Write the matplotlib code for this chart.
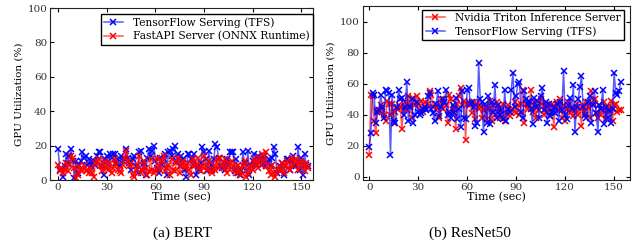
import numpy as np
import matplotlib
matplotlib.use("Agg")
import matplotlib.pyplot as plt

plt.rcParams["font.family"] = "DejaVu Serif"

# BERT (GPU utilization %, one sample per second)
bert_tfs = [18, 6, 7, 2, 8, 15, 10, 14, 18, 11,
            1, 11, 4, 9, 11, 16, 13, 14, 9, 12,
            8, 11, 11, 9, 14, 16, 16, 8, 3, 12,
            14, 9, 15, 13, 15, 15, 10, 12, 8, 14,
            11, 12, 18, 13, 10, 6, 12, 14, 8, 4,
            16, 17, 6, 10, 3, 13, 18, 14, 17, 20,
            11, 7, 4, 13, 9, 12, 15, 3, 16, 17,
            14, 18, 20, 11, 15, 8, 14, 12, 6, 2,
            15, 15, 12, 9, 15, 3, 8, 6, 10, 19,
            16, 12, 5, 17, 9, 6, 12, 21, 19, 13,
            8, 7, 10, 6, 12, 9, 16, 16, 16, 5,
            12, 4, 3, 6, 16, 10, 5, 17, 3, 8,
            11, 15, 9, 14, 12, 11, 9, 14, 8, 10,
            12, 8, 13, 19, 15, 4, 6, 8, 10, 3,
            8, 12, 12, 6, 11, 14, 9, 8, 19, 6,
            13, 3, 15, 9, 8]
bert_onnx = [9, 5, 7, 4, 6, 10, 5, 9, 14, 13,
             7, 1, 3, 8, 6, 5, 9, 5, 6, 4,
             7, 4, 2, 10, 11, 12, 8, 5, 9, 11,
             7, 6, 10, 4, 7, 12, 9, 6, 5, 4,
             9, 13, 17, 11, 8, 10, 3, 2, 6, 9,
             14, 4, 6, 11, 7, 3, 5, 12, 6, 4,
             5, 13, 8, 6, 11, 14, 5, 7, 9, 3,
             12, 6, 5, 10, 13, 4, 8, 11, 7, 9,
             10, 6, 3, 12, 8, 9, 13, 7, 5, 8,
             14, 8, 6, 11, 5, 4, 9, 6, 12, 7,
             13, 9, 7, 12, 4, 10, 6, 11, 8, 7,
             4, 9, 5, 3, 8, 11, 2, 4, 7, 9,
             6, 12, 10, 7, 13, 9, 15, 11, 16, 8,
             5, 3, 9, 4, 2, 6, 8, 5, 10, 4,
             8, 11, 7, 6, 13, 9, 10, 12, 6, 8,
             11, 9, 5, 10, 7]

# ResNet50
resnet_triton = [14, 53, 52, 36, 28, 43, 42, 46, 44, 40,
                 36, 49, 47, 40, 47, 35, 42, 44, 46, 45,
                 31, 44, 48, 43, 52, 46, 38, 51, 46, 52,
                 47, 43, 49, 42, 48, 44, 47, 55, 53, 45,
                 47, 43, 46, 38, 50, 44, 48, 46, 35, 53,
                 50, 42, 45, 31, 47, 52, 57, 46, 49, 24,
                 47, 48, 46, 41, 48, 37, 47, 44, 46, 38,
                 43, 45, 37, 44, 49, 36, 46, 40, 48, 42,
                 38, 45, 47, 36, 41, 46, 39, 43, 44, 48,
                 41, 46, 40, 47, 56, 35, 47, 44, 46, 56,
                 42, 48, 38, 45, 43, 50, 47, 40, 46, 42,
                 44, 39, 47, 32, 45, 48, 43, 50, 38, 46,
                 36, 44, 48, 41, 45, 39, 43, 47, 40, 44,
                 33, 46, 42, 48, 45, 38, 55, 47, 50, 41,
                 38, 46, 40, 43, 48, 37, 45, 42, 49, 36,
                 46, 47, 42, 43, 43]
resnet_tfs = [19, 28, 54, 53, 35, 42, 43, 53, 45, 38,
              56, 55, 54, 14, 53, 36, 35, 45, 56, 50,
              51, 40, 45, 61, 36, 45, 50, 35, 40, 48,
              42, 40, 41, 44, 45, 43, 52, 54, 44, 41,
              36, 47, 55, 39, 45, 50, 48, 56, 40, 42,
              38, 46, 41, 51, 37, 44, 32, 55, 38, 37,
              56, 57, 47, 48, 45, 33, 35, 73, 50, 48,
              29, 47, 35, 52, 34, 48, 42, 59, 38, 46,
              40, 43, 37, 56, 36, 44, 42, 56, 67, 45,
              52, 60, 61, 42, 38, 55, 50, 47, 49, 44,
              34, 51, 45, 49, 38, 52, 57, 43, 48, 35,
              47, 39, 42, 45, 41, 47, 36, 48, 43, 68,
              40, 37, 46, 51, 44, 59, 29, 45, 50, 58,
              65, 45, 40, 38, 48, 52, 35, 46, 55, 41,
              29, 46, 44, 56, 34, 45, 38, 43, 35, 44,
              67, 54, 53, 55, 61]

blue = (0, 0, 1)
red = (1, 0, 0)


def draw(ax, y, color, label):
    t = np.arange(len(y))
    ax.plot(t, y, color=color + (0.65,), lw=1.1, marker='x', ms=4,
            mew=1.1, mec=color, label=label)


def style(ax):
    ax.tick_params(direction='in', top=True, right=True, labelsize=7.5,
                   labelcolor='#333333', length=3, pad=2)
    ax.set_xticks([0, 30, 60, 90, 120, 150])
    ax.set_yticks([0, 20, 40, 60, 80, 100])
    ax.set_xlabel("Time (sec)", fontsize=8, labelpad=0)
    ax.set_ylabel("GPU Utilization (%)", fontsize=7.5, labelpad=3)
    for s in ax.spines.values():
        s.set_color('#222222')


def legend(ax, anchor):
    leg = ax.legend(loc='upper right', bbox_to_anchor=anchor, borderaxespad=0,
                    fontsize=7.7, fancybox=False, handlelength=1.8,
                    handletextpad=0.9, borderpad=0.3, labelspacing=0.3,
                    framealpha=1)
    leg.get_frame().set_edgecolor('black')


fig = plt.figure(figsize=(6.33, 2.5), dpi=100)

ax1 = fig.add_axes([0.079, 0.28, 0.415, 0.688])
draw(ax1, bert_tfs, blue, "TensorFlow Serving (TFS)")
draw(ax1, bert_onnx, red, "FastAPI Server (ONNX Runtime)")
ax1.set_xlim(-5, 157)
ax1.set_ylim(0, 100)
style(ax1)
legend(ax1, (1.0, 0.965))

ax2 = fig.add_axes([0.573, 0.28, 0.423, 0.696])
draw(ax2, resnet_triton, red, "Nvidia Triton Inference Server")
draw(ax2, resnet_tfs, blue, "TensorFlow Serving (TFS)")
ax2.set_xlim(-4, 160)
ax2.set_ylim(-2, 110)
style(ax2)
legend(ax2, (0.974, 0.977))

fig.text(0.289, 0.068, "(a) BERT", ha='center', va='center',
         fontsize=11, family='Liberation Serif')
fig.text(0.743, 0.068, "(b) ResNet50", ha='center', va='center',
         fontsize=11, family='Liberation Serif')

fig.savefig("out.png", dpi=100)
